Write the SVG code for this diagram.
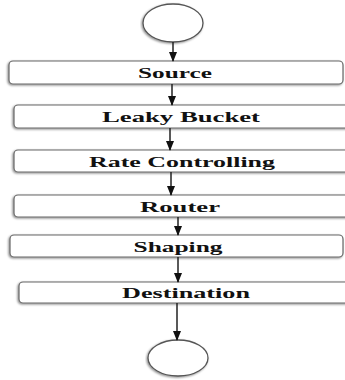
<svg xmlns="http://www.w3.org/2000/svg" width="345" height="380" viewBox="0 0 345 380">
<defs>
<marker id="ah" markerWidth="10" markerHeight="8" refX="9" refY="4" orient="auto" markerUnits="userSpaceOnUse">
<path d="M0,0 L10,4 L0,8 z" fill="#111"/>
</marker>
<filter id="sh" x="-5%" y="-20%" width="110%" height="140%">
<feDropShadow dx="-1" dy="1" stdDeviation="0.8" flood-color="#000" flood-opacity="0.45"/>
</filter>
</defs>
<style>
.box{fill:#fff;stroke:#666;stroke-width:1.2;filter:url(#sh)}
.ell{fill:#fff;stroke:#555;stroke-width:1.3;filter:url(#sh)}
.lbl{font-family:"Liberation Serif","Times New Roman",serif;font-weight:bold;font-size:15px;fill:#111;text-anchor:middle}
.con{stroke:#222;stroke-width:1.5;fill:none;marker-end:url(#ah)}
</style>
<rect width="345" height="380" fill="#fff"/>
<g id="start"><ellipse class="ell" cx="173" cy="23" rx="30" ry="19"/></g>
<g id="source"><rect class="box" x="9" y="61" width="334" height="23" rx="4"/><text class="lbl" x="175" y="77.5" textLength="74" lengthAdjust="spacingAndGlyphs">Source</text></g>
<g id="leaky"><rect class="box" x="14" y="105" width="340" height="23" rx="4"/><text class="lbl" x="181" y="121.5" textLength="158" lengthAdjust="spacingAndGlyphs">Leaky Bucket</text></g>
<g id="rate"><rect class="box" x="14" y="150" width="340" height="22" rx="4"/><text class="lbl" x="182" y="166.5" textLength="186" lengthAdjust="spacingAndGlyphs">Rate Controlling</text></g>
<g id="router"><rect class="box" x="14" y="195" width="340" height="22" rx="4"/><text class="lbl" x="180" y="211.5" textLength="80" lengthAdjust="spacingAndGlyphs">Router</text></g>
<g id="shaping"><rect class="box" x="10" y="235" width="333" height="22" rx="4"/><text class="lbl" x="178" y="251.5" textLength="89" lengthAdjust="spacingAndGlyphs">Shaping</text></g>
<g id="destination"><rect class="box" x="19" y="282" width="335" height="21" rx="4"/><text class="lbl" x="186" y="297.5" textLength="128" lengthAdjust="spacingAndGlyphs">Destination</text></g>
<g id="end"><ellipse class="ell" cx="178" cy="358" rx="30" ry="18"/></g>
<g id="connectors">
<line class="con" x1="173" y1="42" x2="173" y2="61"/>
<line class="con" x1="172" y1="84" x2="172" y2="105"/>
<line class="con" x1="170" y1="128" x2="170" y2="150"/>
<line class="con" x1="171" y1="172" x2="171" y2="195"/>
<line class="con" x1="178" y1="217" x2="178" y2="235"/>
<line class="con" x1="178" y1="257" x2="178" y2="282"/>
<line class="con" x1="177" y1="303" x2="177" y2="340"/>
</g>
</svg>
